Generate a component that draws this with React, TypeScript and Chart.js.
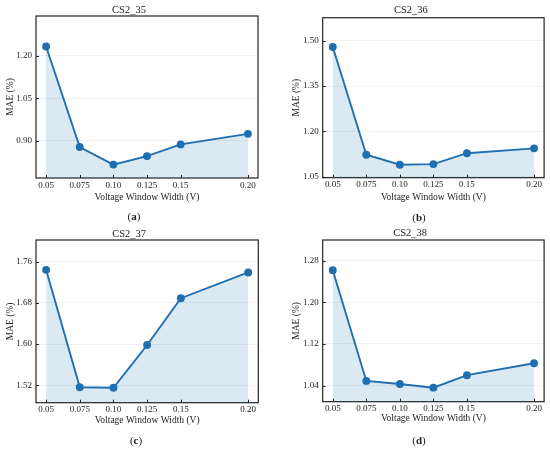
import { useEffect, useRef } from 'react';
import { Chart, registerables } from 'chart.js';
import type { Plugin } from 'chart.js';

Chart.register(...registerables);

// ---- data ----
const xValues     = [0.05, 0.075, 0.10, 0.125, 0.15, 0.20];
const xTickLabels = ['0.05', '0.075', '0.10', '0.125', '0.15', '0.20'];

const mae35 = [1.232, 0.879, 0.817, 0.847, 0.888, 0.925];
const mae36 = [1.479, 1.123, 1.090, 1.092, 1.128, 1.144];
const mae37 = [1.744, 1.516, 1.515, 1.598, 1.689, 1.739];
const mae38 = [1.262, 1.049, 1.043, 1.036, 1.060, 1.083];

const yTicks35 = [0.90, 1.05, 1.20];
const yTicks36 = [1.05, 1.20, 1.35, 1.50];
const yTicks37 = [1.52, 1.60, 1.68, 1.76];
const yTicks38 = [1.04, 1.12, 1.20, 1.28];

const titles   = ['CS2_35', 'CS2_36', 'CS2_37', 'CS2_38'];
const captions = ['a', 'b', 'c', 'd'];
const xTitle   = 'Voltage Window Width (V)';
const yTitle   = 'MAE (%)';

// ---- layout of each sub-figure (pixels inside a 275x225 cell) ----
interface Layout {
  left: number; top: number;
  plotLeft: number; plotRight: number; plotTop: number; plotBottom: number;
  titleY: number; yTitleX: number; xTitleY: number;
  capX: number; capY: number;
  yMin: number; yMax: number;
}

const layouts: Layout[] = [
  { left: 0,   top: 0,   plotLeft: 36,   plotRight: 258,   plotTop: 16,   plotBottom: 178,
    titleY: 10,  yTitleX: 10,   xTitleY: 197, capX: 134, capY: 216, yMin: 0.770, yMax: 1.339 },
  { left: 275, top: 0,   plotLeft: 47.7, plotRight: 271.7, plotTop: 17.7, plotBottom: 177.7,
    titleY: 10,  yTitleX: 21.7, xTitleY: 197, capX: 144, capY: 217, yMin: 1.047, yMax: 1.576 },
  { left: 0,   top: 225, plotLeft: 36,   plotRight: 258.3, plotTop: 15,   plotBottom: 177.7,
    titleY: 9,   yTitleX: 10,   xTitleY: 195, capX: 136, capY: 215, yMin: 1.486, yMax: 1.802 },
  { left: 275, top: 225, plotLeft: 47.7, plotRight: 270.3, plotTop: 15,   plotBottom: 176.7,
    titleY: 8.3, yTitleX: 21.7, xTitleY: 193, capX: 144, capY: 215, yMin: 1.009, yMax: 1.320 },
];

const series = [mae35, mae36, mae37, mae38];
const yTicks = [yTicks35, yTicks36, yTicks37, yTicks38];

const FONT  = 'Liberation Serif';
const INK   = '#222';
const BLUE  = '#1f6fb2';
const FILL  = 'rgba(31,119,180,0.16)';
const W = 275, H = 225;

// box around the plot + matplotlib-style inward ticks
const framePlugin: Plugin<'line'> = {
  id: 'frame',
  afterDraw(chart) {
    const { ctx, chartArea: a, scales } = chart;
    ctx.save();
    ctx.strokeStyle = INK;
    ctx.lineWidth = 1;
    ctx.beginPath();
    scales.y.ticks.forEach(t => {
      const y = Math.round(scales.y.getPixelForValue(t.value)) + 0.5;
      ctx.moveTo(a.left, y); ctx.lineTo(a.left + 3, y);
    });
    scales.x.ticks.forEach(t => {
      const x = Math.round(scales.x.getPixelForValue(t.value)) + 0.5;
      ctx.moveTo(x, a.bottom); ctx.lineTo(x, a.bottom - 3);
    });
    ctx.stroke();
    ctx.lineWidth = 1.2;
    ctx.strokeRect(a.left, a.top, a.right - a.left, a.bottom - a.top);
    ctx.restore();
  },
};

function Panel({ idx }: { idx: number }) {
  const canvasRef = useRef<HTMLCanvasElement>(null);
  const L = layouts[idx];

  useEffect(() => {
    if (!canvasRef.current) return;
    const axisBottom = L.xTitleY + 5.7 + 2;
    const titleHalf  = 6.3;
    const values     = series[idx];
    const ticksY     = yTicks[idx];

    const chart = new Chart(canvasRef.current, {
      type: 'line',
      data: {
        datasets: [{
          data:                 xValues.map((x, i) => ({ x, y: values[i] })),
          borderColor:          BLUE,
          backgroundColor:      FILL,
          borderWidth:          1.9,
          fill:                 'start',
          tension:              0,
          pointRadius:          3,
          pointBackgroundColor: BLUE,
          pointBorderColor:     BLUE,
        }],
      },
      options: {
        responsive: false,
        animation:  false,
        layout: { padding: { left: 0, right: W - L.plotRight, top: 0, bottom: H - axisBottom } },
        plugins: {
          legend:  { display: false },
          tooltip: { enabled: false },
          title: {
            display: true,
            text:    titles[idx],
            color:   INK,
            font:    { family: FONT, size: 10.5, weight: 'normal' },
            padding: { top: L.titleY - titleHalf, bottom: L.plotTop - L.titleY - titleHalf },
          },
        },
        scales: {
          x: {
            type: 'linear',
            min:  0.0425,
            max:  0.2075,
            afterBuildTicks: s => { s.ticks = xValues.map(v => ({ value: v })); },
            afterFit: s => { s.height = axisBottom - L.plotBottom; },
            ticks: {
              color:       INK,
              font:        { family: FONT, size: 9 },
              padding:     2,
              maxRotation: 0,
              autoSkip:    false,
              callback:    v => xTickLabels[xValues.indexOf(v as number)] ?? '',
            },
            grid:   { display: false, drawTicks: false },
            border: { display: false },
            title: {
              display: true,
              text:    xTitle,
              color:   INK,
              font:    { family: FONT, size: 9.5 },
              padding: { top: 0, bottom: 2 },
            },
          },
          y: {
            min: L.yMin,
            max: L.yMax,
            afterBuildTicks: s => { s.ticks = ticksY.map(v => ({ value: v })); },
            afterFit: s => { s.width = L.plotLeft; },
            ticks: {
              color:    INK,
              font:     { family: FONT, size: 9 },
              padding:  4,
              callback: v => (v as number).toFixed(2),
            },
            grid:   { color: '#ececec', lineWidth: 0.8, drawTicks: false },
            border: { display: false },
            title: {
              display: true,
              text:    yTitle,
              color:   INK,
              font:    { family: FONT, size: 9.5 },
              padding: { top: L.yTitleX - 5.7, bottom: 0 },
            },
          },
        },
      },
      plugins: [framePlugin],
    });

    return () => chart.destroy();
  }, [idx]);

  return (
    <div style={{ position: 'absolute', left: L.left, top: L.top, width: W, height: H }}>
      <canvas ref={canvasRef} width={W} height={H} style={{ width: W, height: H, display: 'block' }} />
      <div
        style={{
          position: 'absolute', left: L.capX, top: L.capY,
          transform: 'translate(-50%, -50%)',
          fontFamily: FONT, fontSize: 11, color: INK, whiteSpace: 'nowrap', lineHeight: 1,
        }}
      >
        (<b>{captions[idx]}</b>)
      </div>
    </div>
  );
}

export default function App() {
  return (
    <div style={{ position: 'absolute', left: 0, top: 0, width: 550, height: 450, background: '#fff' }}>
      {layouts.map((_, i) => <Panel key={i} idx={i} />)}
    </div>
  );
}
